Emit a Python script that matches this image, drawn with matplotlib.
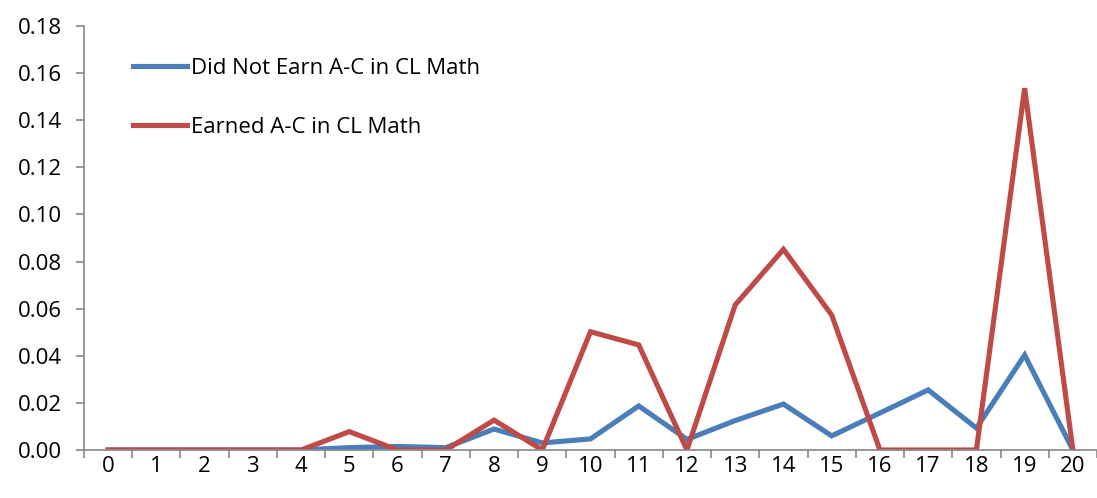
import numpy as np
import matplotlib.pyplot as plt
from matplotlib.ticker import FixedLocator, NullFormatter

categories = list(range(21))
did_not_earn = [0, 0, 0, 0, 0, 0.001, 0.0015, 0.001, 0.0089, 0.003, 0.0047,
                0.0187, 0.0045, 0.0125, 0.0195, 0.006, 0.0157, 0.0255, 0.0093,
                0.0403, 0]
earned = [0, 0, 0, 0, 0, 0.0078, 0, 0, 0.0127, 0, 0.0502,
          0.0446, 0, 0.0616, 0.0852, 0.0573, 0, 0, 0,
          0.1536, 0]

plt.rcParams['font.family'] = ['Open Sans', 'DejaVu Sans']

fig = plt.figure(figsize=(10.97, 4.98), dpi=100)
ax = fig.add_axes([84 / 1097, 48 / 498, 1013 / 1097, 424 / 498])

ax.plot(categories, did_not_earn, color='#4A7EBB', lw=3.7,
        label='Did Not Earn A-C in CL Math', solid_joinstyle='miter')
ax.plot(categories, earned, color='#BE4B48', lw=3.7,
        label='Earned A-C in CL Math', solid_joinstyle='miter')

ax.set_xlim(-0.5, 20.5)
ax.set_ylim(0, 0.18)
ax.set_yticks(np.arange(0, 0.181, 0.02))
ax.set_yticklabels([f'{v:.2f}' for v in np.arange(0, 0.181, 0.02)])

# category labels in the middle, ticks on the boundaries
ax.set_xticks(categories)
ax.set_xticklabels([str(c) for c in categories])
ax.tick_params(axis='x', which='major', length=0, pad=4)
ax.xaxis.set_minor_locator(FixedLocator(np.arange(-0.5, 20.6, 1)))
ax.xaxis.set_minor_formatter(NullFormatter())
ax.tick_params(axis='x', which='minor', length=6, color='#868686', width=1.2)
ax.tick_params(axis='y', length=6, color='#868686', width=1.2, pad=10)
ax.tick_params(labelsize=16)

for s in ['top', 'right']:
    ax.spines[s].set_visible(False)
for s in ['left', 'bottom']:
    ax.spines[s].set_color('#868686')
    ax.spines[s].set_linewidth(1.2)

ax.legend(loc='upper left', bbox_to_anchor=(0.029, 0.972), frameon=False,
          fontsize=16, handlelength=2.4, handletextpad=0.2,
          labelspacing=1.72)

fig.savefig('out.png', dpi=100)
